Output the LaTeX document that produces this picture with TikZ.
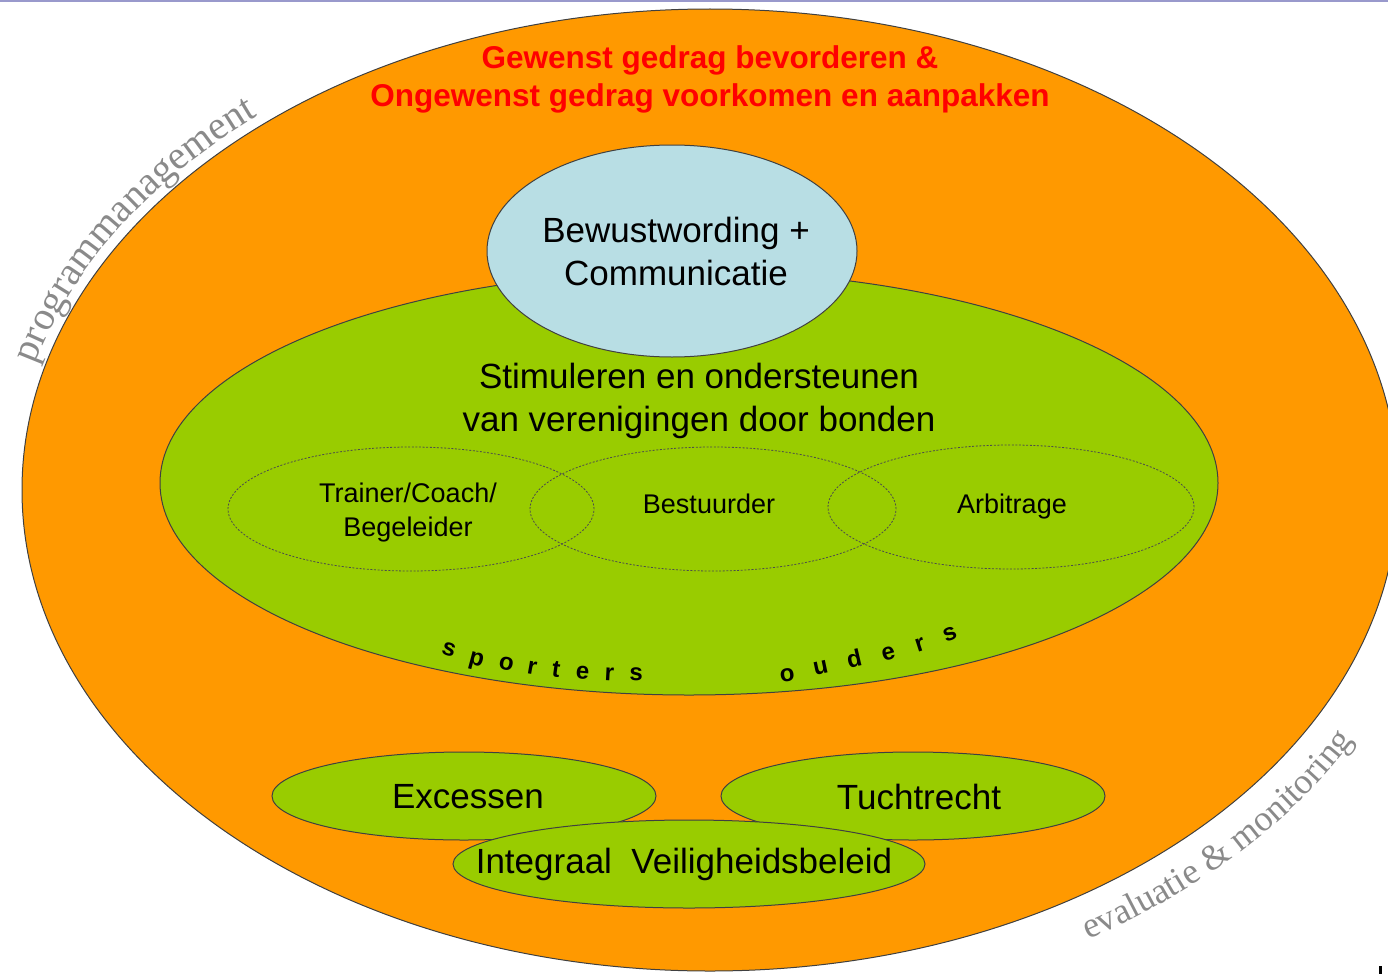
\documentclass[tikz,border=0pt]{standalone}
\usepackage{fontspec}
\setmainfont{Liberation Sans}
\newfontfamily\curvefont{Liberation Serif}
\usetikzlibrary{shapes.geometric,decorations.text}
\definecolor{oranje}{HTML}{FF9900}
\definecolor{groen}{HTML}{99CC00}
\definecolor{lichtblauw}{HTML}{B8DEE4}
\definecolor{grijs}{HTML}{8A8A8A}
\definecolor{rood}{HTML}{FF0000}
\definecolor{lijn}{HTML}{9999CC}
\tikzset{
  blob/.style={ellipse, draw=black!75, line width=1pt, inner sep=0pt},
  stippel/.style={ellipse, draw=black!70, line width=0.8pt, dash pattern=on 2pt off 1.6pt,
    inner sep=0pt, minimum width=366, minimum height=124},
  tekst/.style={align=center, inner sep=0pt},
  letter/.style={font=\bfseries\fontsize{24}{24}\selectfont, anchor=base, inner sep=0pt},
}
\begin{document}
\begin{tikzpicture}[x=1pt,y=1pt]
\useasboundingbox (0,0) rectangle (1388,-974);
\fill[lijn] (0,0) rectangle (1388,-2.5);
% Ellipsen
\node[blob, fill=oranje, minimum width=1376, minimum height=962] (buiten) at (710,-490) {};
\node[blob, fill=groen, minimum width=1058, minimum height=424] (midden) at (689,-483) {};
\node[blob, fill=lichtblauw, minimum width=370, minimum height=212] (bewust) at (672,-251) {};
\node[tekst, font=\fontsize{35}{43}\selectfont] (bewusttekst) at (676,-251)
  {Bewustwording +\\Communicatie};
\node[tekst, font=\bfseries\fontsize{31.5}{38}\selectfont, text=rood] (doel) at (710,-79)
  {Gewenst gedrag bevorderen \&\\Ongewenst gedrag voorkomen en aanpakken};
\node[tekst, font=\fontsize{35}{43}\selectfont] (stimuleren) at (699,-401)
  {Stimuleren en ondersteunen\\van verenigingen door bonden};
\node[stippel] (trainer) at (411,-509) {};
\node[stippel] (bestuurder) at (713,-509) {};
\node[stippel] (arbitrage) at (1011,-507) {};
\node[tekst, font=\fontsize{27}{34}\selectfont] (trainertekst) at (408,-513)
  {Trainer/Coach/\\Begeleider};
\node[tekst, font=\fontsize{27}{34}\selectfont] (bestuurdertekst) at (709,-504) {Bestuurder};
\node[tekst, font=\fontsize{27}{34}\selectfont] (arbitragetekst) at (1012,-507) {Arbitrage};
% Onderste ellipsen
\node[blob, fill=groen, minimum width=384, minimum height=88] (excessen) at (464,-796) {};
\node[blob, fill=groen, minimum width=384, minimum height=88] (tuchtrecht) at (913,-796) {};
\node[blob, fill=groen, minimum width=472, minimum height=88] (integraal) at (689,-864) {};
\node[tekst, font=\fontsize{35}{35}\selectfont] (excessentekst) at (468,-797) {Excessen};
\node[tekst, font=\fontsize{35}{35}\selectfont] (tuchtrechttekst) at (919,-797) {Tuchtrecht};
\node[tekst, font=\fontsize{35}{35}\selectfont] (integraaltekst) at (684,-864)
  {Integraal\ \ Veiligheidsbeleid};
% Letters langs de rand
\foreach \ch/\x/\y/\a [count=\i] in {s/447/656/-18, p/475/665/-15, o/505/670/-12, r/531/674/-10,
  t/555/677/-8, e/582/679/-5, r/609/681/-3, s/636/681/-1}
  \node[letter, rotate=\a] (sp\i) at (\x,-\y) {\ch};
\foreach \ch/\x/\y/\a [count=\i] in {o/788/681/8, u/822/674/12, d/856/667/13, e/890/660/15,
  r/922/651/18, s/952/640/21}
  \node[letter, rotate=\a] (ou\i) at (\x,-\y) {\ch};
% Gebogen teksten
\path[decorate, decoration={text along path, text align=center,
  text={|\curvefont\fontsize{40}{40}\selectfont\color{grijs}|programmanagement}}]
  (buiten.center) ++(172:698pt and 491pt)
  arc[start angle=172, end angle=125, x radius=698pt, y radius=491pt];
\path[decorate, decoration={text along path, text align=center,
  text={|\curvefont\fontsize{36}{36}\selectfont\color{grijs}|evaluatie {\&} monitoring}}]
  (buiten.center) ++(-65:732pt and 525pt)
  arc[start angle=-65, end angle=-21, x radius=732pt, y radius=525pt];
\fill (1379,-966) rectangle (1382,-974);
\end{tikzpicture}
\end{document}
